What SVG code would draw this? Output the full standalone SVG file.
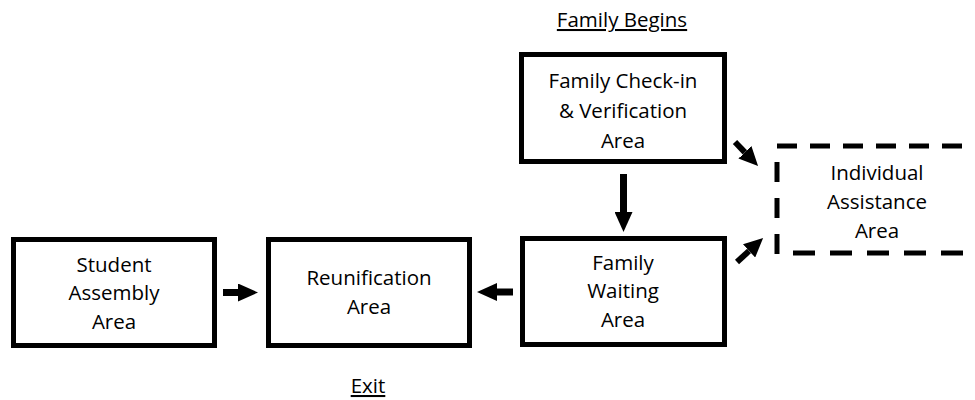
<svg xmlns="http://www.w3.org/2000/svg" width="975" height="400" viewBox="0 0 975 400">
<style>
.box{fill:#fff;stroke:#000;stroke-width:5}
.t{font-family:"Open Sans","Liberation Sans",sans-serif;font-size:20.5px;fill:#000;text-anchor:middle}
.u{text-decoration:underline}
.dash{fill:none;stroke:#000;stroke-width:5}
.arr{stroke:#000;stroke-width:7;fill:none;marker-end:url(#ah)}
.arrd{stroke:#000;stroke-width:6;fill:none;marker-end:url(#ah2)}
</style>
<defs>
<marker id="ah" markerUnits="userSpaceOnUse" markerWidth="20" markerHeight="18" viewBox="0 0 20 18" refX="0" refY="9" orient="auto"><path d="M0,0 L20,9 L0,18 z" fill="#000"/></marker>
<marker id="ah2" markerUnits="userSpaceOnUse" markerWidth="19" markerHeight="18" viewBox="0 0 19 18" refX="0" refY="9" orient="auto"><path d="M0,0 L19,9 L0,18 z" fill="#000"/></marker>
</defs>
<text class="t u" x="622" y="27">Family Begins</text>
<text class="t u" x="368" y="393">Exit</text>
<g id="checkin">
<rect class="box" x="521.5" y="54.5" width="203" height="107"/>
<text class="t" x="623" y="88">Family Check-in</text>
<text class="t" x="623" y="118">&amp; Verification</text>
<text class="t" x="623" y="148">Area</text>
</g>
<g id="individual">
<path class="dash" d="M777,146 H980" stroke-dasharray="20 13"/>
<path class="dash" d="M777,162 V255" stroke-dasharray="20 16"/>
<path class="dash" d="M793,253 H980" stroke-dasharray="22 15"/>
<text class="t" x="877" y="180">Individual</text>
<text class="t" x="877" y="209">Assistance</text>
<text class="t" x="877" y="238">Area</text>
</g>
<g id="student">
<rect class="box" x="13.5" y="239.5" width="201" height="106"/>
<text class="t" x="114" y="272">Student</text>
<text class="t" x="114" y="300">Assembly</text>
<text class="t" x="114" y="329">Area</text>
</g>
<g id="reunification">
<rect class="box" x="268.5" y="239.5" width="201" height="106"/>
<text class="t" x="369" y="285">Reunification</text>
<text class="t" x="369" y="314">Area</text>
</g>
<g id="waiting">
<rect class="box" x="522.5" y="238.5" width="202" height="106"/>
<text class="t" x="623" y="270">Family</text>
<text class="t" x="623" y="298">Waiting</text>
<text class="t" x="623" y="327">Area</text>
</g>
<g id="connectors">
<line class="arr" x1="223" y1="292.5" x2="238" y2="292.5"/>
<line class="arr" x1="513" y1="292" x2="497" y2="292"/>
<line class="arr" x1="623.5" y1="174" x2="623.5" y2="212"/>
<line class="arrd" x1="735" y1="142" x2="744.9" y2="152.3"/>
<line class="arrd" x1="737" y1="262" x2="749.1" y2="250.9"/>
</g>
</svg>
